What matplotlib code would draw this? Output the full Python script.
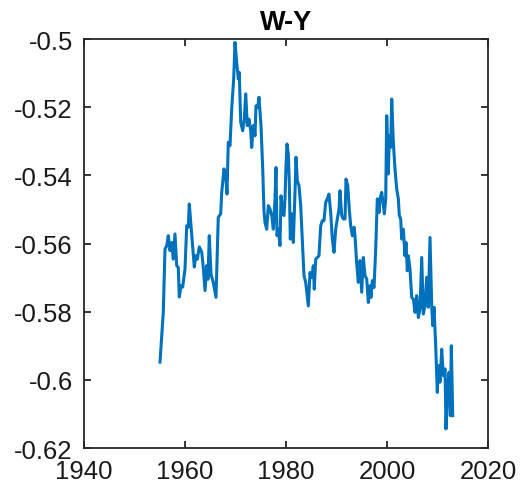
import numpy as np
import matplotlib
matplotlib.use('Agg')
import matplotlib.pyplot as plt
from matplotlib.ticker import FuncFormatter

# W-Y series, quarterly-ish readings
years = [1955.05, 1955.70, 1956.04, 1956.38, 1956.69, 1957.03, 1957.37, 1957.68,
         1958.02, 1958.36, 1958.67, 1958.87, 1959.21, 1959.54, 1960.00, 1960.34,
         1960.65, 1960.85, 1961.19, 1961.52, 1961.84, 1962.12, 1962.44, 1962.83,
         1963.31, 1963.62, 1963.96, 1964.30, 1964.55, 1964.81, 1965.15, 1965.60,
         1966.14, 1966.59, 1967.07, 1967.27, 1967.72, 1968.06, 1968.32, 1968.57,
         1968.91, 1969.25, 1969.64, 1969.90, 1970.24, 1970.55, 1970.75, 1971.03,
         1971.43, 1971.74, 1972.02, 1972.34, 1972.67, 1973.01, 1973.21, 1973.52,
         1973.86, 1974.06, 1974.40, 1974.65, 1975.05, 1975.39, 1975.64, 1975.84,
         1976.18, 1976.50, 1976.83, 1977.17, 1977.49, 1977.82, 1978.02, 1978.22,
         1978.48, 1978.81, 1979.01, 1979.35, 1979.60, 1979.80, 1980.00, 1980.20,
         1980.46, 1980.65, 1980.85, 1981.13, 1981.45, 1981.78, 1981.98, 1982.24,
         1982.57, 1982.91, 1983.23, 1983.56, 1983.90, 1984.22, 1984.42, 1984.75,
         1985.09, 1985.41, 1985.60, 1985.88, 1986.20, 1986.53, 1986.87, 1987.19,
         1987.52, 1987.86, 1988.18, 1988.51, 1988.85, 1989.17, 1989.50, 1989.84,
         1990.16, 1990.50, 1990.69, 1991.03, 1991.35, 1991.68, 1991.88, 1992.22,
         1992.53, 1992.81, 1993.13, 1993.47, 1993.66, 1994.00, 1994.32, 1994.65,
         1994.99, 1995.31, 1995.64, 1995.98, 1996.30, 1996.63, 1996.83, 1997.09,
         1997.43, 1997.76, 1998.08, 1998.42, 1998.61, 1998.95, 1999.27, 1999.47,
         1999.74, 1999.94, 2000.14, 2000.26, 2000.46, 2000.73, 2000.93, 2001.25,
         2001.58, 2001.92, 2002.24, 2002.44, 2002.71, 2002.91, 2003.23, 2003.56,
         2003.76, 2004.02, 2004.22, 2004.55, 2004.89, 2005.21, 2005.54, 2005.88,
         2006.20, 2006.53, 2006.87, 2007.19, 2007.52, 2007.86, 2008.18, 2008.51,
         2008.85, 2009.05, 2009.31, 2009.64, 2009.96, 2010.16, 2010.50, 2010.83,
         2011.15, 2011.49, 2011.68, 2011.94, 2012.28, 2012.53, 2012.73, 2013.01]

wy = [-0.5948, -0.5802, -0.5616, -0.5607, -0.5577, -0.5621, -0.5597, -0.5646,
      -0.5572, -0.5665, -0.5670, -0.5757, -0.5724, -0.5728, -0.5675, -0.5548,
      -0.5552, -0.5484, -0.5548, -0.5610, -0.5669, -0.5636, -0.5646, -0.5610,
      -0.5625, -0.5669, -0.5738, -0.5665, -0.5705, -0.5577, -0.5690, -0.5714,
      -0.5758, -0.5523, -0.5513, -0.5450, -0.5381, -0.5401, -0.5455, -0.5303,
      -0.5313, -0.5205, -0.5117, -0.5010, -0.5068, -0.5117, -0.5098, -0.5244,
      -0.5269, -0.5235, -0.5161, -0.5254, -0.5235, -0.5269, -0.5318, -0.5254,
      -0.5284, -0.5196, -0.5200, -0.5171, -0.5254, -0.5381, -0.5504, -0.5538,
      -0.5558, -0.5489, -0.5499, -0.5518, -0.5558, -0.5469, -0.5377, -0.5577,
      -0.5558, -0.5606, -0.5460, -0.5509, -0.5518, -0.5469, -0.5372, -0.5308,
      -0.5337, -0.5420, -0.5587, -0.5513, -0.5597, -0.5450, -0.5347, -0.5416,
      -0.5430, -0.5489, -0.5587, -0.5694, -0.5714, -0.5758, -0.5783, -0.5685,
      -0.5700, -0.5665, -0.5734, -0.5646, -0.5641, -0.5636, -0.5548, -0.5533,
      -0.5533, -0.5479, -0.5469, -0.5455, -0.5509, -0.5587, -0.5626, -0.5558,
      -0.5528, -0.5499, -0.5445, -0.5518, -0.5528, -0.5528, -0.5411, -0.5430,
      -0.5499, -0.5548, -0.5577, -0.5552, -0.5577, -0.5660, -0.5714, -0.5650,
      -0.5743, -0.5641, -0.5694, -0.5704, -0.5773, -0.5724, -0.5758, -0.5709,
      -0.5729, -0.5616, -0.5469, -0.5509, -0.5469, -0.5450, -0.5489, -0.5513,
      -0.5469, -0.5225, -0.5323, -0.5396, -0.5284, -0.5318, -0.5176, -0.5303,
      -0.5381, -0.5440, -0.5469, -0.5518, -0.5528, -0.5587, -0.5558, -0.5636,
      -0.5597, -0.5680, -0.5636, -0.5675, -0.5758, -0.5763, -0.5802, -0.5753,
      -0.5817, -0.5792, -0.5641, -0.5807, -0.5782, -0.5699, -0.5787, -0.5582,
      -0.5782, -0.5841, -0.5787, -0.5900, -0.6037, -0.5958, -0.6007, -0.5910,
      -0.5988, -0.5968, -0.6144, -0.6027, -0.5978, -0.6105, -0.5900, -0.6105]

x_ticks = [1940, 1960, 1980, 2000, 2020]
y_ticks = [-0.62, -0.6, -0.58, -0.56, -0.54, -0.52, -0.5]

plt.rcParams['font.family'] = ['Liberation Sans', 'DejaVu Sans']
plt.rcParams['axes.unicode_minus'] = False

fig = plt.figure(figsize=(5.21, 4.85), dpi=100)
ax = fig.add_axes([0.1612, 0.0742, 0.7755, 0.8433])

ax.plot(years, wy, color='#0072BD', lw=2.2)

ax.set_xlim(1940, 2020)
ax.set_ylim(-0.62, -0.5)
ax.set_xticks(x_ticks)
ax.set_yticks(y_ticks)
ax.yaxis.set_major_formatter(FuncFormatter(lambda v, p: '{:g}'.format(round(v, 4))))

axis_col = '#262626'
for s in ax.spines.values():
    s.set_color(axis_col)
    s.set_linewidth(1.3)
ax.tick_params(direction='in', length=5, width=1.3, color=axis_col,
               top=True, right=True, labelsize=18.5, labelcolor='#1a1a1a')
ax.tick_params(axis='y', pad=8)
ax.tick_params(axis='x', pad=8)

ax.set_title('W-Y', fontsize=19.5, fontweight='bold', pad=7)

fig.savefig('out.png', dpi=100)
